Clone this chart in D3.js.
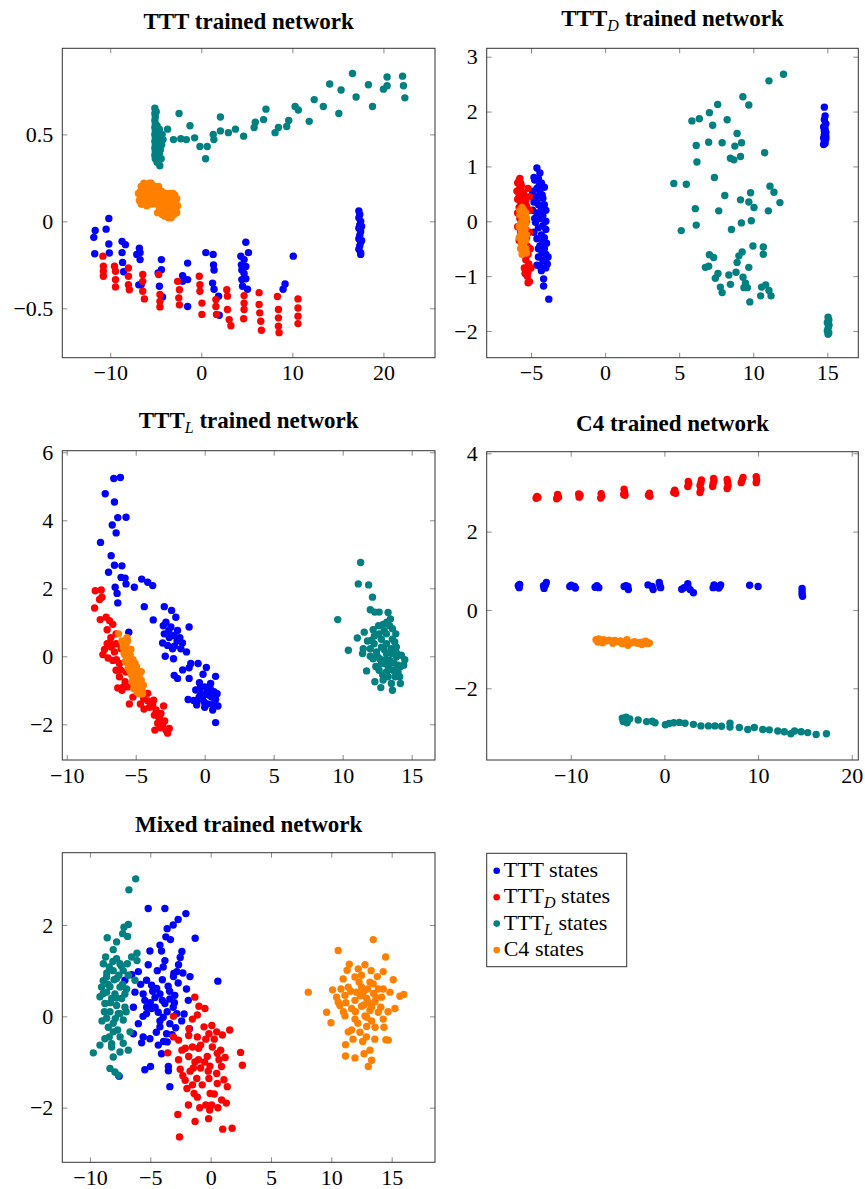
<!DOCTYPE html>
<html><head><meta charset="utf-8">
<script src="https://cdn.jsdelivr.net/npm/d3@7"></script>
<style>body{margin:0;background:#fff}svg{display:block}</style>
</head><body><svg id="c" width="865" height="1189"></svg>
<script>
// ---------- Series ----------
const seriesKeys = ["ttt","tttD","tttL","c4"];
const seriesColors = ["#0000ff","#ff0000","#008080","#ff8000"];
const legendMain = ["TTT","TTT","TTT","C4"];
const legendSub = ["","D","L",""];

// ---------- Panel 1: TTT trained network ----------
const p1_ttt = [[-10.15,0.016],[-11.65,-0.052],[-11.8,-0.092],[-10.45,-0.045],[-10.15,-0.13],[-11.7,-0.186],[-10.1,-0.182],[-8.7,-0.115],[-8.33,-0.134],[-8.7,-0.18],[-8.64,-0.236],[-8.53,-0.29],[-6.8,-0.154],[-6.72,-0.18],[-6.72,-0.22],[-7.08,-0.19],[-6.6,-0.364],[-6.87,-0.365],[-4.38,-0.22],[-4.38,-0.278],[-4.74,-0.297],[-4.6,-0.373],[-4.25,-0.435],[-1.5,-0.24],[-2.05,-0.312],[-1.5,-0.335],[-2.05,-0.345],[-1.5,-0.49],[0.5,-0.18],[1.3,-0.19],[1.34,-0.25],[1.4,-0.28],[1.24,-0.355],[1.4,-0.39],[1.9,-0.43],[1.97,-0.54],[4.34,-0.2],[4.89,-0.12],[5.18,-0.18],[4.4,-0.25],[4.45,-0.28],[4.7,-0.3],[4.89,-0.33],[4.45,-0.335],[4.53,-0.373],[5.07,-0.39],[4.89,-0.26],[4.7,-0.22],[9.2,-0.36],[8.98,-0.39],[10.1,-0.2],
 [17.3,0.06],[17.4,0.04],[17.3,0.02],[17.5,0],[17.4,-0.02],[17.3,-0.04],[17.5,-0.06],[17.4,-0.08],[17.3,-0.1],[17.5,-0.12],[17.4,-0.14],[17.3,-0.16],[17.5,-0.18],[17.5,-0.19],[17.6,-0.03],[17.6,-0.11]];
const p1_tttD = [[-10.8,-0.2],[-10.75,-0.258],[-10.75,-0.287],[-10.75,-0.316],[-9.53,-0.258],[-9.42,-0.287],[-9.42,-0.335],[-9.42,-0.377],[-8.0,-0.268],[-8.0,-0.316],[-8.0,-0.364],[-7.9,-0.393],[-6.43,-0.306],[-6.43,-0.345],[-6.43,-0.402],[-6.25,-0.446],[-4.68,-0.306],[-4.54,-0.42],[-4.54,-0.46],[-4.54,-0.492],[-2.6,-0.345],[-2.4,-0.393],[-2.47,-0.44],[-2.4,-0.48],[-0.22,-0.316],[-0.15,-0.364],[-0.15,-0.402],[0.07,-0.47],[0.07,-0.535],[1.6,-0.45],[1.6,-0.49],[1.67,-0.535],[2.8,-0.393],[2.87,-0.43],[2.87,-0.507],[3.06,-0.565],[3.25,-0.6],[4.7,-0.427],[4.7,-0.47],[4.7,-0.507],[4.65,-0.56],[6.35,-0.41],[6.35,-0.478],[6.42,-0.526],[6.53,-0.574],[6.6,-0.626],[8.36,-0.432],[8.47,-0.507],[8.47,-0.555],[8.47,-0.603],[8.54,-0.64],[10.62,-0.446],[10.62,-0.498],[10.62,-0.545],[10.62,-0.588]];
const p1_tttL = [[-5.1,0.65],[-5.1,0.62],[-5.05,0.6],[-5.1,0.58],[-5.05,0.56],[-5.1,0.54],[-5.05,0.52],[-5.1,0.5],[-5.05,0.48],[-5.1,0.46],[-5.05,0.44],[-5.1,0.42],[-5.05,0.40],[-5.1,0.38],[-5.05,0.36],[-4.85,0.55],[-4.85,0.5],[-4.8,0.45],[-4.85,0.41],[-4.8,0.37],[-4.85,0.34],[-4.6,0.53],[-4.6,0.49],[-4.65,0.46],[-4.6,0.42],[-4.6,0.39],[-4.65,0.35],[-4.55,0.32],[-4.3,0.5],[-4.2,0.47],[-4.35,0.44],[-4.95,0.63],[-4.95,0.43],[-4.75,0.39],[-4.7,0.52],[-4.4,0.36],[-4.5,0.41],
 [-2.44,0.62],[-1.24,0.55],[-3.7,0.53],[-3.05,0.47],[-2.25,0.475],[-1.64,0.47],[-0.73,0.48],[-0.15,0.43],[0.65,0.43],[0.47,0.36],[1.38,0.47],[1.31,0.5],[2.1,0.6],[2.1,0.52],[2.98,0.51],[3.75,0.53],[4.65,0.49],[5.8,0.54],[5.93,0.57],[6.84,0.585],[7.1,0.645],[8.1,0.51],[8.47,0.54],[9.38,0.545],[9.6,0.58],[10.3,0.66],[10.65,0.64],[11.85,0.575],[12.4,0.7],[13.4,0.66],[14.1,0.79],[15.1,0.62],[15.35,0.755],[16.6,0.85],[17.0,0.715],[18.35,0.785],[18.8,0.66],[20.0,0.76],[20.4,0.78],[20.4,0.83],[22.1,0.835],[22.2,0.78],[22.35,0.71]];
const p1_c4 = [[-6.8,0.12],[-6.7,0.17],[-6.6,0.2],[-6.5,0.1],[-6.4,0.15],[-6.3,0.22],[-6.2,0.13],[-6.1,0.18],[-6.0,0.09],[-5.9,0.2],[-5.8,0.15],[-5.7,0.22],[-5.6,0.12],[-5.5,0.18],[-5.4,0.1],[-5.3,0.2],[-5.2,0.14],[-5.1,0.17],[-5.0,0.11],[-4.9,0.19],[-4.8,0.13],[-4.7,0.16],[-4.6,0.08],[-4.5,0.06],[-4.4,0.12],[-4.3,0.04],[-4.2,0.15],[-4.1,0.09],[-4.0,0.03],[-3.9,0.11],[-3.8,0.07],[-3.7,0.14],[-3.6,0.02],[-3.5,0.1],[-3.4,0.05],[-3.3,0.13],[-3.2,0.08],[-3.1,0.16],[-3.0,0.04],[-2.9,0.11],[-2.8,0.07],[-2.7,0.13],[-2.6,0.09],[-3.5,0.16],[-4.8,0.05],
 [-6.5,0.2],[-6.3,0.14],[-6.1,0.12],[-5.9,0.17],[-5.7,0.1],[-5.5,0.14],[-5.3,0.12],[-5.1,0.2],[-4.9,0.1],[-4.7,0.2],[-4.5,0.14],[-4.3,0.17],[-4.1,0.13],[-3.9,0.16],[-3.7,0.05],[-3.5,0.04],[-3.3,0.02],[-3.1,0.09],[-2.9,0.15],[-2.7,0.05],[-6.9,0.16],[-6.6,0.1],[-4.0,0.07],[-3.6,0.12],[-6.2,0.21],[-5.5,0.22],[-4.6,0.18]];

// ---------- Panel 2: TTT_D trained network ----------
const p2_ttt = [[-4.6,0.97],[-4.4,0.88],[-4.5,0.78],[-4.75,0.75],[-4.3,0.7],[-4.1,0.62],[-4.6,0.6],[-4.9,0.55],[-4.4,0.52],[-4.7,0.45],[-4.2,0.42],[-4.8,0.35],[-4.5,0.3],[-4.3,0.25],[-4.9,0.2],[-4.6,0.15],[-4.2,0.1],[-4.4,0.05],[-4.0,0],[-4.7,-0.02],[-4.2,-0.08],[-4.5,-0.12],[-4.0,-0.15],[-4.8,-0.2],[-4.3,-0.25],[-4.6,-0.32],[-4.2,-0.38],[-4.4,-0.45],[-4.1,-0.5],[-4.0,-0.6],[-4.5,-0.65],[-4.2,-0.72],[-3.9,-0.78],[-4.4,-0.82],[-4.0,-0.85],[-4.15,-1.05],[-4.15,-1.18],[-3.8,-1.42],[-4.05,-0.7],
 [-4.8,0.8],[-4.45,0.65],[-4.25,0.48],[-4.65,0.38],[-4.1,0.3],[-4.0,0.2],[-4.35,0.15],[-4.75,0.05],[-4.1,-0.3],[-4.5,-0.5],[-3.95,-0.4],[-4.25,-0.58],[-4.6,-0.8],[-4.3,-0.9],[-3.85,-0.65],
 [14.8,2.08],[14.85,1.92],[14.8,1.85],[14.9,1.78],[14.75,1.72],[14.85,1.68],[14.9,1.62],[14.8,1.58],[14.75,1.52],[14.9,1.5],[14.8,1.45],[14.85,1.42],[14.75,1.4],[14.9,1.55],[14.8,1.65],[14.85,1.75]];
const p2_tttD = [[-5.75,0.78],[-5.7,0.7],[-5.75,0.62],[-5.65,0.55],[-5.8,0.48],[-5.6,0.42],[-5.9,0.4],[-5.7,0.35],[-5.55,0.3],[-5.8,0.25],[-5.35,0.38],[-5.3,0.28],[-5.6,0.18],[-5.4,0.1],[-5.75,0.05],[-5.3,0],[-5.6,-0.05],[-5.35,-0.15],[-5.7,-0.2],[-5.3,-0.3],[-5.5,-0.38],[-5.25,-0.45],[-5.45,-0.55],[-5.2,-0.6],[-5.35,-0.7],[-5.15,-0.78],[-5.45,-0.85],[-5.2,-0.92],[-5.25,-1.0],[-5.1,-1.1],[-5.2,-1.12],[-5.65,0.65],[-5.5,0.5],
 [-5.9,0.7],[-5.95,0.55],[-5.9,0.15],[-5.9,-0.1],[-5.8,-0.35],[-5.1,0.2],[-5.1,-0.2],[-5.05,-0.5],[-5.0,-0.85],[-5.1,0.45],[-5.8,0.75],[-5.2,0.6],[-5.3,-0.85],[-5.4,-0.95]];
const p2_tttL = [[12.04,2.68],[11.06,2.56],[9.3,2.27],[9.7,2.12],[7.6,2.13],[7.04,1.98],[5.86,1.83],[6.36,1.87],[7.26,1.75],[8.24,1.85],[8.91,1.6],[6.15,1.38],[6.99,1.44],[7.9,1.43],[8.76,1.37],[9.21,1.43],[8.46,1.15],[8.69,1.12],[9.14,1.18],[10.77,1.25],[6.2,1.08],[7.38,0.8],[4.64,0.69],[5.48,0.675],[11.13,0.64],[11.4,0.53],[8.08,0.47],[9.82,0.52],[9.14,0.39],[9.7,0.35],[10.05,0.25],[11.8,0.34],[6.09,0.23],[7.67,0.19],[11.02,0.19],[5.14,-0.17],[6.15,-0.07],[8.53,-0.15],[9.2,-0.03],[9.87,0.01],[9.98,-0.45],[10.68,-0.47],[10.68,-0.6],[7.04,-0.61],[7.33,-0.66],[6.77,-0.84],[6.99,-0.82],[9.03,-0.63],[9.25,-0.56],[8.91,-0.75],[9.7,-0.84],[7.62,-0.95],[7.44,-1.04],[8.35,-0.98],[8.84,-0.93],[9.31,-1.02],[8.46,-1.15],[7.78,-1.2],[7.9,-1.3],[9.48,-1.13],[9.6,-1.21],[9.77,-1.47],[10.5,-1.36],[10.56,-1.2],[11.06,-1.26],[11.2,-1.36],[10.84,-1.16],[9.37,-1.21],
 [15.05,-1.75],[15.1,-1.8],[15.0,-1.85],[15.1,-1.9],[15.05,-1.95],[15.0,-2.0],[15.1,-2.03],[15.05,-2.06],[15.1,-1.88],[15.05,-1.82]];
const p2_c4 = [[-5.6,0.25],[-5.5,0.2],[-5.75,0.12],[-5.4,0.08],[-5.6,0.02],[-5.35,-0.04],[-5.8,-0.1],[-5.4,-0.14],[-5.65,-0.2],[-5.45,-0.26],[-5.8,-0.3],[-5.35,-0.35],[-5.65,-0.4],[-5.5,-0.45],[-5.35,-0.5],[-5.5,-0.55],[-5.3,-0.58],[-5.7,-0.5],[-5.35,0.15],[-5.3,-0.25],[-5.75,0.2],[-5.55,0.1],[-5.7,-0.05],[-5.5,-0.15],[-5.55,-0.32],[-5.3,0.05],[-5.6,-0.6]];

// ---------- Panel 3: TTT_L trained network ----------
const p3_ttt = [[-6.59,5.23],[-6.11,5.26],[-7.21,4.78],[-6.54,4.54],[-6.3,4.08],[-5.7,4.09],[-6.7,3.86],[-6.42,3.63],[-7.55,3.35],[-6.78,2.96],[-6.54,2.68],[-6.0,2.66],[-6.97,2.47],[-6.06,2.32],[-5.77,2.3],[-6.49,2.03],[-6.35,1.85],[-5.7,2.13],[-5.1,2.03],[-4.57,2.27],[-4.13,2.18],[-3.77,2.08],[-6.3,1.57],[-4.38,1.46],[-3.73,1.07],[-5.5,0.71],[-2.93,1.46],[-2.4,1.35],[-2.09,1.15],[-2.81,1.0],[-2.45,0.86],[-1.97,0.76],[-1.13,0.86],[-2.93,0.66],[-2.57,0.55],[-2.21,0.61],[-3.05,0.39],[-2.69,0.32],[-1.61,0.39],[-2.33,0.22],[-1.73,0.22],[-1.32,0.13],[-2.86,0],[-2.26,-0.07],[-1.01,-0.21],[-0.48,-0.21],[0.12,-0.33],[-1.13,-0.34],[-0.12,-0.53],[-2.21,-0.56],[-1.97,-0.65],[-1.13,-0.65],[0.79,-0.59],[-0.38,-0.78],[0.43,-0.8],[0,-0.9],[-0.65,-0.99],[0.67,-1.04],[-0.29,-1.09],[0.31,-1.14],[-1.2,-1.27],[-0.53,-1.29],[-0.17,-1.24],[0.79,-1.27],[0.96,-1.46],[-0.58,-1.43],[0.19,-1.4],[0.58,-1.58],[0.79,-1.95],[-0.05,-1.34],[-0.29,-0.9],
 [0.2,-1.0],[-0.1,-1.15],[0.5,-1.2],[0.4,-0.95],[-0.4,-1.2],[0.9,-1.1],[0.0,-1.5],[-2.0,0.45],[-2.6,0.75],[-2.2,0.3],[-1.8,0.55],[-3.0,0.9],[-1.6,-0.4],[0.6,-1.4],[-0.8,-1.3]];
const p3_tttD = [[-7.93,1.93],[-7.5,1.95],[-7.45,1.74],[-7.62,1.67],[-7.98,1.42],[-7.57,1.08],[-7.14,1.15],[-6.9,1.05],[-6.66,0.94],[-7.07,0.78],[-6.42,0.66],[-7.07,0.37],[-6.78,0.27],[-7.26,0.2],[-7.38,0.05],[-6.42,0.37],[-6.54,0.13],[-6.06,0.22],[-6.66,-0.12],[-6.18,-0.21],[-6.42,-0.41],[-6.18,-0.6],[-6.3,-0.93],[-5.77,-0.75],[-5.7,-0.46],[-5.58,-0.9],[-5.46,-1.4],[-4.66,-1.4],[-4.42,-1.24],[-4.13,-1.31],[-3.7,-1.29],[-3.77,-1.43],[-3.53,-1.58],[-2.98,-1.46],[-3.65,-1.73],[-3.29,-1.82],[-3.41,-1.97],[-3.61,-2.17],[-3.05,-2.02],[-2.81,-2.17],[-2.69,-2.26],[-2.57,-2.12],[-3.17,-1.68],[-4.13,-1.09],[-4.86,-0.99],
 [-6.4,-0.1],[-6.8,0.55],[-6.1,-0.4],[-5.9,-0.9],[-5.2,-1.2],[-4.0,-1.5],[-3.4,-1.75],[-3.2,-2.1],[-2.9,-1.9],[-6.9,0.4],[-7.0,-0.05],[-6.0,-1.0],[-4.4,-1.55]];
const p3_tttL = [[11.3,2.76],[11.13,2.13],[11.88,2.1],[12.16,1.74],[9.64,1.08],[12.0,1.37],[12.33,1.3],[12.64,1.3],[13.29,1.29],[13.46,1.1],[10.41,0.18],[11.06,0.54],[11.56,0.71],[12.21,0.78],[12.93,0.94],[12.64,0.66],[13.17,0.66],[13.61,0.81],[13.85,0.66],[11.49,0.22],[11.44,0.08],[12.0,0.22],[12.28,0.37],[12.45,0.13],[12.81,0.27],[13.17,0.08],[13.53,0.22],[13.77,0.42],[12.69,-0.07],[13.05,-0.21],[13.41,-0.12],[13.89,-0.02],[14.25,0.03],[14.42,-0.26],[14.01,-0.26],[13.65,-0.41],[13.17,-0.46],[12.64,-0.41],[11.73,-0.43],[12.33,-0.75],[12.93,-0.7],[12.76,-0.92],[13.53,-0.8],[14.13,-0.6],[14.18,-0.8],[13.61,-1.0],[13.29,-0.6],[12.81,-0.21],[12.21,-0.07],[12.09,0.47],[13.17,0.37],[13.53,0.08],[13.89,0.27],[14.01,-0.46],
 [12.5,0.0],[13.0,0.2],[13.3,-0.3],[12.8,0.5],[13.6,0.5],[13.9,0.1],[12.4,-0.3],[13.1,-0.1],[13.8,-0.6],[12.9,-0.55],[14.2,-0.3],[13.4,0.9],[12.6,0.9],[13.2,1.0],[14.5,-0.1],[12.0,0.0],[11.8,0.45],[13.7,-0.2],[12.3,0.6],[13.0,0.75]];
const p3_c4 = [[-6.25,0.66],[-5.63,0.55],[-5.82,0.37],[-5.9,0.25],[-5.7,0.2],[-5.8,0.05],[-5.55,0.1],[-5.65,-0.05],[-5.45,-0.1],[-5.6,-0.2],[-5.35,-0.15],[-5.5,-0.3],[-5.25,-0.3],[-5.4,-0.45],[-5.15,-0.4],[-5.3,-0.55],[-5.05,-0.5],[-5.2,-0.65],[-4.95,-0.6],[-5.1,-0.75],[-4.85,-0.7],[-5.0,-0.85],[-4.75,-0.8],[-4.9,-0.95],[-4.65,-0.9],[-4.8,-1.05],[-4.55,-1.0],[-4.7,-0.5],[-4.6,-0.7],[-5.5,0.0],[-5.2,-0.1],[-4.95,-0.3],[-4.7,-1.1],[-4.45,-0.85],[-5.7,0.35],[-5.4,0.05],[-4.85,-0.45],
 [-5.85,0.1],[-5.35,0.2],[-5.55,-0.35],[-5.05,-0.2],[-5.25,-0.75],[-4.75,-0.6],[-4.9,-1.05],[-4.5,-1.1],[-5.75,-0.15],[-5.0,-0.95],[-4.6,-0.45],[-5.6,0.45],[-6.0,0.45],[-5.15,-0.95]];

// ---------- Panel 4: C4 trained network ----------
const p4_ttt = [[-15.6,0.62],[-15.5,0.57],[-15.45,0.65],[-12.9,0.62],[-12.85,0.55],[-12.6,0.7],[-12.7,0.64],[-10.1,0.6],[-9.95,0.63],[-9.5,0.56],[-9.6,0.6],[-7.4,0.58],[-7.2,0.62],[-7.0,0.57],[-4.3,0.6],[-4.1,0.62],[-3.85,0.52],[-3.9,0.6],[-1.75,0.64],[-1.2,0.52],[-1.3,0.6],[-0.55,0.7],[-0.4,0.57],[-0.5,0.64],[1.85,0.53],[2.1,0.57],[2.5,0.67],[2.5,0.6],[2.75,0.52],[3.1,0.44],[5.2,0.57],[5.3,0.64],[5.5,0.6],[5.9,0.6],[6.0,0.64],[5.8,0.56],[9.1,0.63],[10.0,0.6],[14.7,0.55],[14.7,0.47],[14.7,0.4],[14.75,0.35]];
const p4_tttD = [[-13.7,2.85],[-13.6,2.9],[-13.5,2.87],[-11.5,2.84],[-11.4,2.9],[-11.3,2.88],[-11.4,2.95],[-9.1,2.88],[-9.0,2.93],[-9.15,2.96],[-6.8,2.86],[-6.7,2.9],[-6.75,2.97],[-4.35,2.95],[-4.25,3.0],[-4.3,3.08],[-4.2,2.93],[-1.7,2.93],[-1.6,2.98],[-1.55,2.9],[1.0,3.0],[1.1,3.06],[1.2,2.98],[2.5,3.15],[2.6,3.22],[2.55,3.28],[3.8,3.18],[3.9,3.25],[3.95,3.32],[3.8,3.0],[3.9,3.08],[5.15,3.15],[5.2,3.22],[5.3,3.3],[5.25,3.36],[6.7,3.1],[6.8,3.18],[6.75,3.26],[6.7,3.33],[8.2,3.25],[8.3,3.32],[8.4,3.38],[9.8,3.25],[9.85,3.32],[9.8,3.4]];
const p4_tttL = [[-4.5,-2.76],[-4.3,-2.8],[-4.1,-2.74],[-3.9,-2.82],[-3.7,-2.78],[-4.4,-2.85],[-4.0,-2.88],[-2.8,-2.81],[-1.9,-2.85],[-1.3,-2.84],[-1.0,-2.88],[0.1,-2.93],[0.5,-2.9],[1.0,-2.88],[1.6,-2.87],[2.2,-2.89],[3.1,-2.92],[3.9,-2.96],[4.7,-2.96],[5.4,-2.96],[6.1,-2.97],[7.0,-2.89],[7.0,-2.99],[8.0,-3.0],[8.9,-3.05],[9.6,-3.0],[10.5,-3.05],[11.2,-3.06],[12.1,-3.09],[12.8,-3.11],[13.5,-3.16],[13.9,-3.09],[14.6,-3.11],[15.3,-3.13],[16.2,-3.18],[17.3,-3.16]];
const p4_c4 = [[-7.3,-0.76],[-7.0,-0.74],[-6.8,-0.78],[-6.5,-0.76],[-6.2,-0.79],[-5.9,-0.77],[-5.6,-0.8],[-5.3,-0.78],[-5.0,-0.81],[-4.7,-0.79],[-4.4,-0.82],[-4.1,-0.8],[-3.8,-0.86],[-3.5,-0.84],[-3.2,-0.81],[-2.9,-0.85],[-2.6,-0.83],[-2.3,-0.82],[-2.0,-0.8],[-1.8,-0.86],[-1.6,-0.84],[-6.6,-0.84],[-5.5,-0.85],[-4.5,-0.86],[-3.9,-0.9],[-2.4,-0.88],[-7.1,-0.82],[-4.0,-0.76]];

// ---------- Panel 5: Mixed trained network ----------
const p5_ttt = [[-5.17,2.36],[-3.79,2.36],[-2.05,2.25],[-2.69,2.12],[-3.1,2.0],[-3.6,1.92],[-3.71,1.74],[-3.33,1.68],[-1.28,1.71],[-4.2,1.56],[-4.07,1.43],[-5.03,1.43],[-2.38,1.42],[-3.79,1.22],[-2.52,1.29],[-5.17,1.13],[-3.93,1.08],[-4.42,1.0],[-2.66,1.13],[-3.05,0.94],[-2.8,0.98],[-3.08,0.87],[-5.99,0.98],[-6.54,0.91],[-5.31,0.79],[-4.89,0.68],[-1.71,0.87],[0.6,0.77],[-7.1,0.79],[-4.47,0.61],[-2.69,0.73],[-3.52,0.66],[-6.27,0.53],[-5.59,0.49],[-4.2,0.49],[-2.97,0.46],[-1.85,0.35],[-6.4,0.2],[-5.45,0.35],[-4.89,0.17],[-4.34,0.09],[-3.79,0.28],[-3.1,0.2],[-2.8,0.06],[-3.93,-0.02],[-3.38,-0.16],[-4.2,-0.23],[-3.65,-0.38],[-5.99,-0.16],[-6.4,-0.38],[-5.59,-0.45],[-5.03,-0.49],[-5.72,-0.58],[-4.34,-0.63],[-3.6,-0.56],[-4.07,-0.82],[-5.45,-1.17],[-4.98,-1.1],[-3.5,-1.1],[-3.5,-1.19],[-3.38,-1.54],[-7.58,-1.31],[-1.76,-0.27],[-4.61,0.41],[-3.38,0.38],[-5.31,0.06],
 [-5.0,0.3],[-4.6,0.2],[-4.0,0.35],[-3.6,0.1],[-4.8,0.55],[-5.3,0.2],[-3.4,0.55],[-4.2,-0.1],[-3.2,-0.4],[-5.6,0.0],[-4.5,-0.35],[-3.0,0.3],[-2.2,0.05],[-2.0,0.6],[-2.4,-0.1],[-4.0,0.8],[-5.8,0.7],[-2.9,-0.25],[-3.9,-0.55],[-2.3,0.95]];
const p5_tttD = [[-3.08,0.0],[-1.31,0.42],[-0.97,0.22],[-0.47,0.17],[-1.1,0.03],[-1.51,-0.06],[-0.55,-0.23],[-1.79,-0.27],[-0.14,-0.38],[0.97,-0.41],[0.5,-0.34],[1.58,-0.3],[-3.08,-0.45],[-2.66,-0.52],[-1.82,-0.42],[-1.1,-0.45],[-3.55,-0.8],[-2.38,-0.74],[-1.51,-0.67],[-0.83,-0.63],[0.14,-0.67],[0.83,-0.74],[2.48,-0.79],[-2.66,-0.95],[-1.82,-0.88],[-1.01,-0.95],[-0.28,-0.88],[0.55,-0.81],[-2.52,-1.16],[-1.43,-1.13],[-0.83,-1.13],[-0.06,-1.09],[0.69,-0.95],[2.63,-1.07],[-2.11,-1.4],[-1.15,-1.36],[-0.14,-1.36],[0.55,-1.47],[1.38,-1.54],[-1.96,-1.58],[-1.37,-1.69],[-0.04,-1.69],[0.91,-1.83],[-1.84,-1.94],[-0.4,-1.94],[-0.08,-2.05],[-2.72,-2.15],[-1.29,-2.3],[-0.17,-2.24],[1.0,-2.47],[1.78,-2.45],[-2.58,-2.64],[1.1,-1.39],[0.5,-1.25],[-1.1,-1.77],[0.08,-1.94],
 [-1.0,-0.7],[-0.5,-1.0],[-1.3,-1.0],[-0.2,-1.2],[0.3,-0.5],[-0.7,-1.5],[0.3,-1.7],[-1.7,-1.2],[-2.1,-0.7],[0.9,-1.1],[1.2,-0.9],[-0.4,-0.5],[-2.3,-1.3],[0.6,-2.0],[-1.5,-1.5],[1.3,-1.9],[-0.9,-2.0],[0.1,-0.2]];
const p5_tttL = [[-6.21,3.01],[-6.77,2.77],[-6.82,2.01],[-7.18,1.95],[-7.29,1.81],[-6.88,1.75],[-8.57,1.72],[-7.79,1.63],[-8.07,1.46],[-6.1,1.38],[-6.55,1.3],[-6.1,1.22],[-7.79,1.26],[-7.51,1.15],[-8.89,1.15],[-8.4,1.08],[-8.07,1.0],[-7.24,1.0],[-6.82,0.9],[-8.62,0.86],[-7.79,0.83],[-6.27,0.79],[-9.04,0.64],[-8.34,0.65],[-7.51,0.64],[-6.96,0.6],[-8.62,0.53],[-7.93,0.49],[-7.1,0.49],[-9.17,0.43],[-8.2,0.39],[-7.37,0.39],[-8.76,0.28],[-7.79,0.24],[-7.1,0.2],[-8.34,0.1],[-7.51,0.06],[-8.62,-0.04],[-8.07,-0.15],[-7.24,-0.08],[-6.68,-0.34],[-8.48,-0.24],[-8.07,-0.34],[-9.17,-0.63],[-8.2,-0.67],[-7.24,-0.59],[-6.82,-0.74],[-7.51,-0.78],[-9.72,-0.8],[-8.07,-0.89],[-8.34,-1.14],[-7.93,-1.22],[-7.65,-1.29],[-8.76,-0.49],[-8.9,0.78],[-7.65,0.06],
 [-8.5,0.7],[-8.0,0.8],[-7.8,0.4],[-8.3,0.3],[-8.8,0.1],[-7.6,0.9],[-8.1,1.2],[-7.4,1.1],[-8.6,0.95],[-7.9,-0.05],[-8.4,-0.45],[-7.7,-0.3],[-8.9,0.5],[-7.3,0.7],[-8.2,-0.6],[-7.5,-0.45],[-9.0,-0.1],[-7.0,0.1],[-6.9,1.15],[-8.7,1.3]];
const p5_c4 = [[13.47,1.68],[10.57,1.44],[14.5,1.3],[8.09,0.53],[11.49,1.14],[12.23,1.04],[12.79,1.13],[11.31,1.01],[15.13,0.8],[14.3,0.98],[13.81,0.87],[13.2,0.75],[10.98,0.82],[11.96,0.86],[10.1,0.58],[11.4,0.64],[12.51,0.64],[13.47,0.71],[14.3,0.6],[14.85,0.53],[15.68,0.44],[16.0,0.48],[15.27,0.17],[10.44,0.42],[11.13,0.46],[11.96,0.35],[12.93,0.39],[13.7,0.41],[14.16,0.42],[9.61,0.09],[10.71,0.24],[11.68,0.17],[12.51,0.22],[13.34,0.2],[13.89,0.09],[9.97,-0.14],[11.13,0.01],[11.96,-0.06],[12.79,0.01],[13.34,-0.1],[14.3,-0.06],[14.36,-0.24],[13.62,-0.24],[12.93,-0.22],[11.4,-0.34],[11.68,-0.3],[12.37,-0.35],[14.52,-0.51],[14.72,-0.52],[11.18,-0.62],[11.18,-0.87],[11.96,-0.91],[12.71,-0.82],[13.2,-0.74],[13.34,-0.96],[13.06,-1.1],[12.09,0.53],[12.65,0.53],[13.2,0.13],[12.93,-0.02],[13.62,0.32],[10.57,0.31],
 [12.0,0.1],[12.4,0.45],[13.0,0.6],[13.5,0.5],[12.2,-0.15],[12.7,0.25],[13.1,0.3],[11.6,0.55],[12.5,0.9],[13.9,0.6],[14.1,0.2],[11.0,0.1],[11.8,-0.5],[13.6,-0.5],[12.6,-0.55],[10.8,0.6],[14.7,0.1],[12.3,0.75],[13.3,1.0],[11.2,0.3],[12.9,-0.45]];

// ---------- Ticks ----------
const p1XTicks = [-10,0,10,20], p1XLabels = ["−10","0","10","20"];
const p1YTicks = [-0.5,0,0.5], p1YLabels = ["−0.5","0","0.5"];
const p2XTicks = [-5,0,5,10,15], p2XLabels = ["−5","0","5","10","15"];
const p2YTicks = [-2,-1,0,1,2,3], p2YLabels = ["−2","−1","0","1","2","3"];
const p3XTicks = [-10,-5,0,5,10,15], p3XLabels = ["−10","−5","0","5","10","15"];
const p3YTicks = [-2,0,2,4,6], p3YLabels = ["−2","0","2","4","6"];
const p4XTicks = [-10,0,10,20], p4XLabels = ["−10","0","10","20"];
const p4YTicks = [-2,0,2,4], p4YLabels = ["−2","0","2","4"];
const p5XTicks = [-10,-5,0,5,10,15], p5XLabels = ["−10","−5","0","5","10","15"];
const p5YTicks = [-2,0,2], p5YLabels = ["−2","0","2"];

// ---------- Layout ----------
const panels = [
  {t:"TTT", sub:"", ty:29, left:62.3, top:48.3, w:372.7, h:309.4, xd:[-15.26,25.66], yd:[-0.784,0.995], xt:p1XTicks, xl:p1XLabels, yt:p1YTicks, yl:p1YLabels, series:[p1_ttt,p1_tttD,p1_tttL,p1_c4]},
  {t:"TTT", sub:"D", ty:26, left:486.7, top:48.3, w:371.6, h:309.4, xd:[-7.99,17.09], yd:[-2.487,3.153], xt:p2XTicks, xl:p2XLabels, yt:p2YTicks, yl:p2YLabels, series:[p2_ttt,p2_tttD,p2_tttL,p2_c4]},
  {t:"TTT", sub:"L", ty:428, left:62.3, top:450.7, w:372.7, h:309.3, xd:[-10.32,16.69], yd:[-3.05,6.047], xt:p3XTicks, xl:p3XLabels, yt:p3YTicks, yl:p3YLabels, series:[p3_ttt,p3_tttD,p3_tttL,p3_c4]},
  {t:"C4", sub:"", ty:431, left:486.7, top:451.7, w:371.6, h:308.3, xd:[-18.97,20.7], yd:[-3.83,4.04], xt:p4XTicks, xl:p4XLabels, yt:p4YTicks, yl:p4YLabels, series:[p4_ttt,p4_tttD,p4_tttL,p4_c4]},
  {t:"Mixed", sub:"", ty:832, left:62.3, top:852.7, w:372.7, h:309.6, xd:[-12.29,18.59], yd:[-3.196,3.583], xt:p5XTicks, xl:p5XLabels, yt:p5YTicks, yl:p5YLabels, series:[p5_ttt,p5_tttD,p5_tttL,p5_c4]}
];

const FONT = "'Liberation Serif','Times New Roman',serif";
const svg = d3.select("#c");
const R = 3.7, TICK = 5, TICKCOL = "#8c8c8c";

panels.forEach(p => {
  const x = d3.scaleLinear().domain(p.xd).range([0, p.w]);
  const y = d3.scaleLinear().domain(p.yd).range([p.h, 0]);
  const g = svg.append("g").attr("transform", `translate(${p.left},${p.top})`);

  const title = svg.append("text").attr("x", p.left + p.w/2).attr("y", p.ty)
    .attr("text-anchor","middle").style("font-family",FONT).attr("font-weight","bold")
    .attr("font-size",23).style("white-space","pre");
  title.append("tspan").text(p.t);
  if (p.sub) {
    title.append("tspan").attr("font-style","italic").attr("font-weight","normal")
      .attr("font-size",16).attr("dy",5).text(p.sub);
    title.append("tspan").attr("dy",-5).text(" trained network");
  } else {
    title.append("tspan").text(" trained network");
  }

  const styleAxis = sel => {
    sel.attr("font-family", null);
    sel.select(".domain").remove();
    sel.selectAll(".tick line").attr("stroke",TICKCOL);
    sel.selectAll(".tick text").style("font-family",FONT).attr("font-size",22).attr("fill","#000");
  };
  g.append("g").attr("transform",`translate(0,${p.h})`)
    .call(d3.axisBottom(x).tickValues(p.xt).tickFormat((d,i)=>p.xl[i]).tickSize(-TICK).tickPadding(7)).call(styleAxis);
  g.append("g")
    .call(d3.axisTop(x).tickValues(p.xt).tickFormat("").tickSize(-TICK)).call(styleAxis);
  g.append("g")
    .call(d3.axisLeft(y).tickValues(p.yt).tickFormat((d,i)=>p.yl[i]).tickSize(-TICK).tickPadding(9)).call(styleAxis);
  g.append("g").attr("transform",`translate(${p.w},0)`)
    .call(d3.axisRight(y).tickValues(p.yt).tickFormat("").tickSize(-TICK)).call(styleAxis);

  p.series.forEach((s, si) => {
    g.append("g").attr("fill", seriesColors[si])
      .selectAll("circle").data(s).join("circle")
      .attr("cx", d => x(d[0])).attr("cy", d => y(d[1])).attr("r", R);
  });

  g.append("rect").attr("width",p.w).attr("height",p.h)
    .attr("fill","none").attr("stroke","#333").attr("stroke-width",1);
});

// ---------- Legend ----------
const lg = svg.append("g").attr("transform","translate(486.7,853.3)");
lg.append("rect").attr("width",140).attr("height",113.4).attr("fill","#fff").attr("stroke","#333").attr("stroke-width",1);
seriesKeys.forEach((k,i) => {
  const cy = 17.5 + i*26.4;
  lg.append("circle").attr("cx",10).attr("cy",cy).attr("r",3.3).attr("fill",seriesColors[i]);
  const t = lg.append("text").attr("x",17).attr("y",cy+6.3).style("font-family",FONT).attr("font-size",22).style("white-space","pre");
  t.append("tspan").text(legendMain[i]);
  if (legendSub[i]) {
    t.append("tspan").attr("font-style","italic").attr("font-size",16).attr("dy",5).text(legendSub[i]);
    t.append("tspan").attr("dy",-5).text(" states");
  } else {
    t.append("tspan").text(" states");
  }
});
</script>
</body></html>
